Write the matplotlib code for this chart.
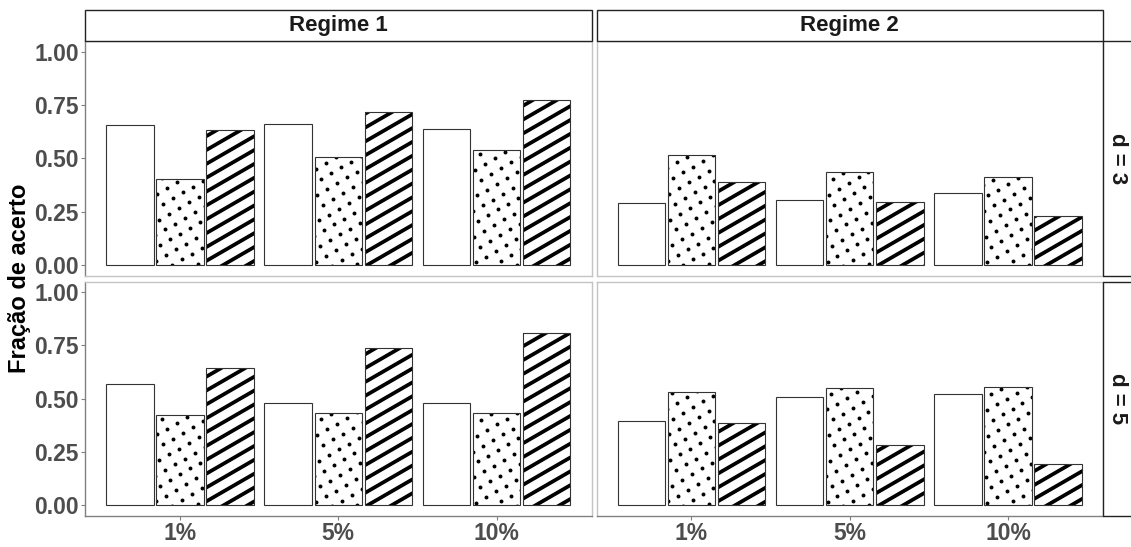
import matplotlib.pyplot as plt
import numpy as np
from matplotlib.patches import Rectangle
from matplotlib.collections import LineCollection

plt.rcParams['font.family'] = ['Liberation Sans', 'DejaVu Sans']

categorias = ['1%', '5%', '10%']
regimes = ['Regime 1', 'Regime 2']
dims = ['d = 3', 'd = 5']
y_ticks = [0.0, 0.25, 0.5, 0.75, 1.0]
y_labels = ['0.00', '0.25', '0.50', '0.75', '1.00']

# fração de acerto por método (branco, pontos, listras)
branco_r1_d3 = [0.656, 0.661, 0.638]
pontos_r1_d3 = [0.401, 0.506, 0.539]
listras_r1_d3 = [0.634, 0.716, 0.774]

branco_r2_d3 = [0.291, 0.303, 0.338]
pontos_r2_d3 = [0.517, 0.436, 0.413]
listras_r2_d3 = [0.387, 0.295, 0.228]

branco_r1_d5 = [0.567, 0.481, 0.478]
pontos_r1_d5 = [0.426, 0.434, 0.431]
listras_r1_d5 = [0.642, 0.739, 0.809]

branco_r2_d5 = [0.395, 0.509, 0.520]
pontos_r2_d5 = [0.530, 0.550, 0.556]
listras_r2_d5 = [0.388, 0.283, 0.194]

paineis = {
    (0, 0): [branco_r1_d3, pontos_r1_d3, listras_r1_d3],
    (0, 1): [branco_r2_d3, pontos_r2_d3, listras_r2_d3],
    (1, 0): [branco_r1_d5, pontos_r1_d5, listras_r1_d5],
    (1, 1): [branco_r2_d5, pontos_r2_d5, listras_r2_d5],
}
padroes = ['none', 'circle', 'stripe']

W, H = 1131, 547
fig = plt.figure(figsize=(W / 100, H / 100), dpi=100)

col_x = [85, 596.5]
col_w = 506.5
row_y = [41, 281.5]
row_h = 234.5
XLIM = (0.4, 3.6)
YLIM = (-0.05, 1.05)
px_x = col_w / (XLIM[1] - XLIM[0])
px_y = row_h / (YLIM[1] - YLIM[0])
ang = np.deg2rad(30)
d_hat = np.array([np.cos(ang), np.sin(ang)])
n_hat = np.array([-np.sin(ang), np.cos(ang)])
ESP = 12.0      # espaçamento das listras (px)
ESP_PT = 11.5   # espaçamento dos pontos (px)


def cantos_px(x, y, w, h):
    X0 = (x - XLIM[0]) * px_x
    Y0 = (y - YLIM[0]) * px_y
    X1 = X0 + w * px_x
    Y1 = Y0 + h * px_y
    return np.array([[X0, Y0], [X1, Y0], [X0, Y1], [X1, Y1]])


def para_dados(P):
    return np.column_stack([P[:, 0] / px_x + XLIM[0], P[:, 1] / px_y + YLIM[0]])


def listras(ax, bar):
    c = cantos_px(bar.get_x(), bar.get_y(), bar.get_width(), bar.get_height())
    u = c @ n_hat
    t = c @ d_hat
    segs = []
    for k in range(int(np.floor(u.min() / ESP)) - 1, int(np.ceil(u.max() / ESP)) + 2):
        p0 = k * ESP * n_hat + (t.min() - 5) * d_hat
        p1 = k * ESP * n_hat + (t.max() + 5) * d_hat
        segs.append(para_dados(np.array([p0, p1])))
    lc = LineCollection(segs, colors='black', linewidths=2.7, zorder=2,
                        capstyle='butt')
    ax.add_collection(lc)
    lc.set_clip_path(bar)


def pontos(ax, bar):
    c = cantos_px(bar.get_x(), bar.get_y(), bar.get_width(), bar.get_height())
    a = c @ d_hat / ESP_PT
    b = c @ n_hat / ESP_PT
    pts = []
    for i in range(int(np.floor(a.min())) - 1, int(np.ceil(a.max())) + 2):
        for j in range(int(np.floor(b.min())) - 1, int(np.ceil(b.max())) + 2):
            p = i * ESP_PT * d_hat + j * ESP_PT * n_hat
            if c[0, 0] - 2 <= p[0] <= c[3, 0] + 2 and c[0, 1] - 2 <= p[1] <= c[3, 1] + 2:
                pts.append(p)
    pts = para_dados(np.array(pts))
    sc = ax.scatter(pts[:, 0], pts[:, 1], s=8, color='black', linewidths=0, zorder=2)
    sc.set_clip_path(bar)


x = np.arange(1, len(categorias) + 1)
larg = 0.3
desl = 0.317

for (r, c_), series in paineis.items():
    ax = fig.add_axes([col_x[c_] / W, 1 - (row_y[r] + row_h) / H, col_w / W, row_h / H])
    ax.set_xlim(*XLIM)
    ax.set_ylim(*YLIM)
    for j, (vals, pad) in enumerate(zip(series, padroes)):
        xs = x + (j - 1) * desl
        bars = ax.bar(xs, vals, width=larg, color='white', edgecolor='none', zorder=1)
        for bar in bars:
            if pad == 'stripe':
                listras(ax, bar)
            elif pad == 'circle':
                pontos(ax, bar)
            ax.add_patch(Rectangle((bar.get_x(), bar.get_y()), bar.get_width(), bar.get_height(),
                                   fill=False, edgecolor='#333333', linewidth=0.8, zorder=3))

    for s in ax.spines.values():
        s.set_color('#c4c4c4')
        s.set_linewidth(1.0)

    if c_ == 0:
        ax.spines['left'].set_color('#808080')
        ax.set_yticks(y_ticks)
        ax.set_yticklabels(y_labels, fontweight='bold')
        ax.tick_params(axis='y', length=3, width=0.8, color='#808080',
                       labelsize=16.5, labelcolor='#4D4D4D', pad=1.5)
    else:
        ax.set_yticks([])
    if r == 1:
        ax.spines['bottom'].set_color('#808080')
        ax.set_xticks(x)
        ax.set_xticklabels(categorias, fontweight='bold')
        ax.tick_params(axis='x', length=3, width=0.8, color='#808080',
                       labelsize=16.5, labelcolor='#4D4D4D', pad=1.5)
    else:
        ax.set_xticks([])

# faixas superiores (regime)
for c_, nome in enumerate(regimes):
    fig.patches.append(Rectangle((col_x[c_] / W, 1 - 41 / H), col_w / W, 31 / H,
                                 transform=fig.transFigure, facecolor='white',
                                 edgecolor='#222222', linewidth=1.0, clip_on=False))
    fig.text((col_x[c_] + col_w / 2) / W, 1 - 25.5 / H, nome, ha='center', va='center',
             fontsize=16, fontweight='bold', color='#1a1a1a')

# faixas laterais (dimensão)
x_strip = col_x[1] + col_w
for r, nome in enumerate(dims):
    fig.patches.append(Rectangle((x_strip / W, 1 - (row_y[r] + row_h) / H), 31 / W, row_h / H,
                                 transform=fig.transFigure, facecolor='white',
                                 edgecolor='#222222', linewidth=1.0, clip_on=False))
    fig.text((x_strip + 14) / W, 1 - (row_y[r] + row_h / 2) / H, nome, ha='center', va='center',
             rotation=270, fontsize=16, fontweight='bold', color='#1a1a1a')

fig.text(20 / W, 1 - (row_y[0] + row_y[1] + row_h) / 2 / H, 'Fração de acerto',
         rotation=90, ha='center', va='center', fontsize=17, fontweight='bold')

fig.savefig('out.png', dpi=100, facecolor='white')
